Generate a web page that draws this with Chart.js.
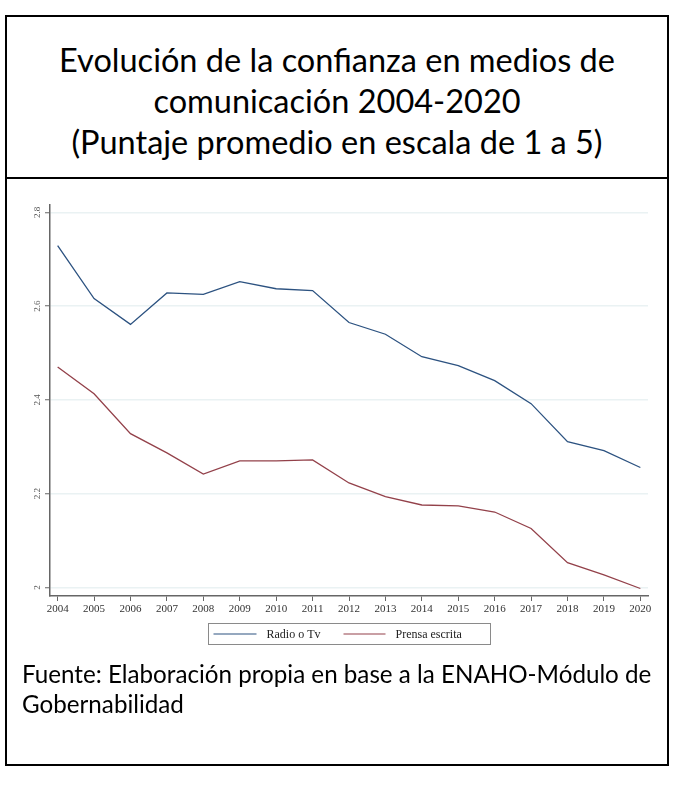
<!DOCTYPE html>
<html><head><meta charset="utf-8">
<script src="https://cdn.jsdelivr.net/npm/chart.js@4"></script>
<style>
body{margin:0;background:#fff;width:684px;height:792px;position:relative;overflow:hidden}
#frame{position:absolute;left:5px;top:15px;width:664px;height:751px;box-sizing:border-box;border:2px solid #000}
#divider{position:absolute;left:5px;top:177px;width:664px;height:2px;background:#000}
#title{position:absolute;left:5px;top:39px;width:664px;text-align:center;font-family:Lato,sans-serif;font-size:32.5px;line-height:41px;color:#000}
#note{position:absolute;left:22px;top:659px;width:645px;font-family:Lato,sans-serif;font-size:24.2px;line-height:30px;color:#000;white-space:nowrap}
#wrap{position:absolute;left:7px;top:180px;width:660px;height:480px}
</style></head>
<body>
<div id="frame"></div>
<div id="divider"></div>
<div id="title">Evolución de la confianza en medios de<br>comunicación 2004-2020<br>(Puntaje promedio en escala de 1 a 5)</div>
<div id="wrap"><canvas id="c" width="660" height="480"></canvas></div>
<div id="note">Fuente: Elaboración propia en base a la ENAHO-Módulo de<br>Gobernabilidad</div>
<script>
const years = [2004,2005,2006,2007,2008,2009,2010,2011,2012,2013,2014,2015,2016,2017,2018,2019,2020];
const radioTv = [2.729,2.616,2.561,2.628,2.625,2.652,2.637,2.633,2.565,2.540,2.492,2.473,2.441,2.392,2.311,2.292,2.256];
const prensaEscrita = [2.470,2.413,2.328,2.287,2.242,2.270,2.270,2.272,2.223,2.194,2.176,2.174,2.161,2.126,2.053,2.027,1.998];
const seriesNames = ['Radio o Tv','Prensa escrita'];
const yTicks = [2,2.2,2.4,2.6,2.8];
const yTickLabels = ['2','2.2','2.4','2.6','2.8'];

const serif = '"Liberation Serif","Times New Roman",serif';

const overlay = {
  id:'overlay',
  afterDraw(chart){
    const ctx = chart.ctx, ys = chart.scales.y, ca = chart.chartArea;
    ctx.save();
    ctx.font = '9px ' + serif;
    ctx.fillStyle = '#555';
    ctx.textAlign = 'center';
    ctx.textBaseline = 'middle';
    yTicks.forEach((v,i)=>{
      const py = ys.getPixelForValue(v);
      ctx.save();
      ctx.translate(ca.left - 12, py);
      ctx.rotate(-Math.PI/2);
      ctx.fillText(yTickLabels[i], 0, 0);
      ctx.restore();
    });
    // legend
    const bw = 282, bh = 21;
    const left = Math.round((ca.left + ca.right)/2 - bw/2) + 0.5;
    const top = Math.round(ca.bottom + 27) + 0.5;
    ctx.strokeStyle = '#8a8a8a';
    ctx.lineWidth = 1;
    ctx.strokeRect(left, top, bw, bh);
    const ly = top + bh/2;
    const items = [[5,48,58],[135,177,187]];
    chart.data.datasets.forEach((ds,i)=>{
      const [a,b,t] = items[i];
      ctx.strokeStyle = ds.borderColor;
      ctx.lineWidth = 1.2;
      ctx.beginPath(); ctx.moveTo(left+a, ly); ctx.lineTo(left+b, ly); ctx.stroke();
      ctx.fillStyle = '#222';
      ctx.font = '12px ' + serif;
      ctx.textAlign = 'left';
      ctx.fillText(ds.label, left+t, ly+0.5);
    });
    ctx.restore();
  }
};

new Chart(document.getElementById('c'), {
  type:'line',
  data:{
    datasets:[
      {label:seriesNames[0], data:years.map((x,i)=>({x, y:radioTv[i]})), borderColor:'#2c5280', borderWidth:1.3, pointRadius:0, tension:0, fill:false},
      {label:seriesNames[1], data:years.map((x,i)=>({x, y:prensaEscrita[i]})), borderColor:'#93414a', borderWidth:1.3, pointRadius:0, tension:0, fill:false}
    ]
  },
  options:{
    responsive:false,
    devicePixelRatio:1,
    animation:false,
    layout:{padding:{top:25,right:19,bottom:40,left:0}},
    plugins:{legend:{display:false}, tooltip:{enabled:false}, title:{display:false}},
    scales:{
      x:{
        type:'linear', min:2003.79, max:2020.21,
        afterBuildTicks:s=>{ s.ticks = years.map(v=>({value:v})); },
        afterFit:s=>{ s.height = 24; },
        border:{color:'#666', width:1.5},
        grid:{drawOnChartArea:false, tickColor:'#666', tickLength:5, tickWidth:1},
        ticks:{autoSkip:false, maxRotation:0, minRotation:0, padding:2, color:'#333', font:{family:serif, size:11}, callback:v=>String(v)}
      },
      y:{
        type:'linear', min:1.982, max:2.8155,
        afterBuildTicks:s=>{ s.ticks = yTicks.map(v=>({value:v})); },
        afterFit:s=>{ s.width = 43; },
        border:{color:'#666', width:1.5},
        grid:{color:'#eaf2f3', lineWidth:1.5, tickColor:'#666', tickLength:5, tickWidth:1},
        ticks:{color:'rgba(0,0,0,0)', font:{family:serif, size:9}, callback:(v)=>{const i=yTicks.indexOf(v); return i>=0?yTickLabels[i]:'';}}
      }
    }
  },
  plugins:[overlay]
});
</script>
</body></html>
